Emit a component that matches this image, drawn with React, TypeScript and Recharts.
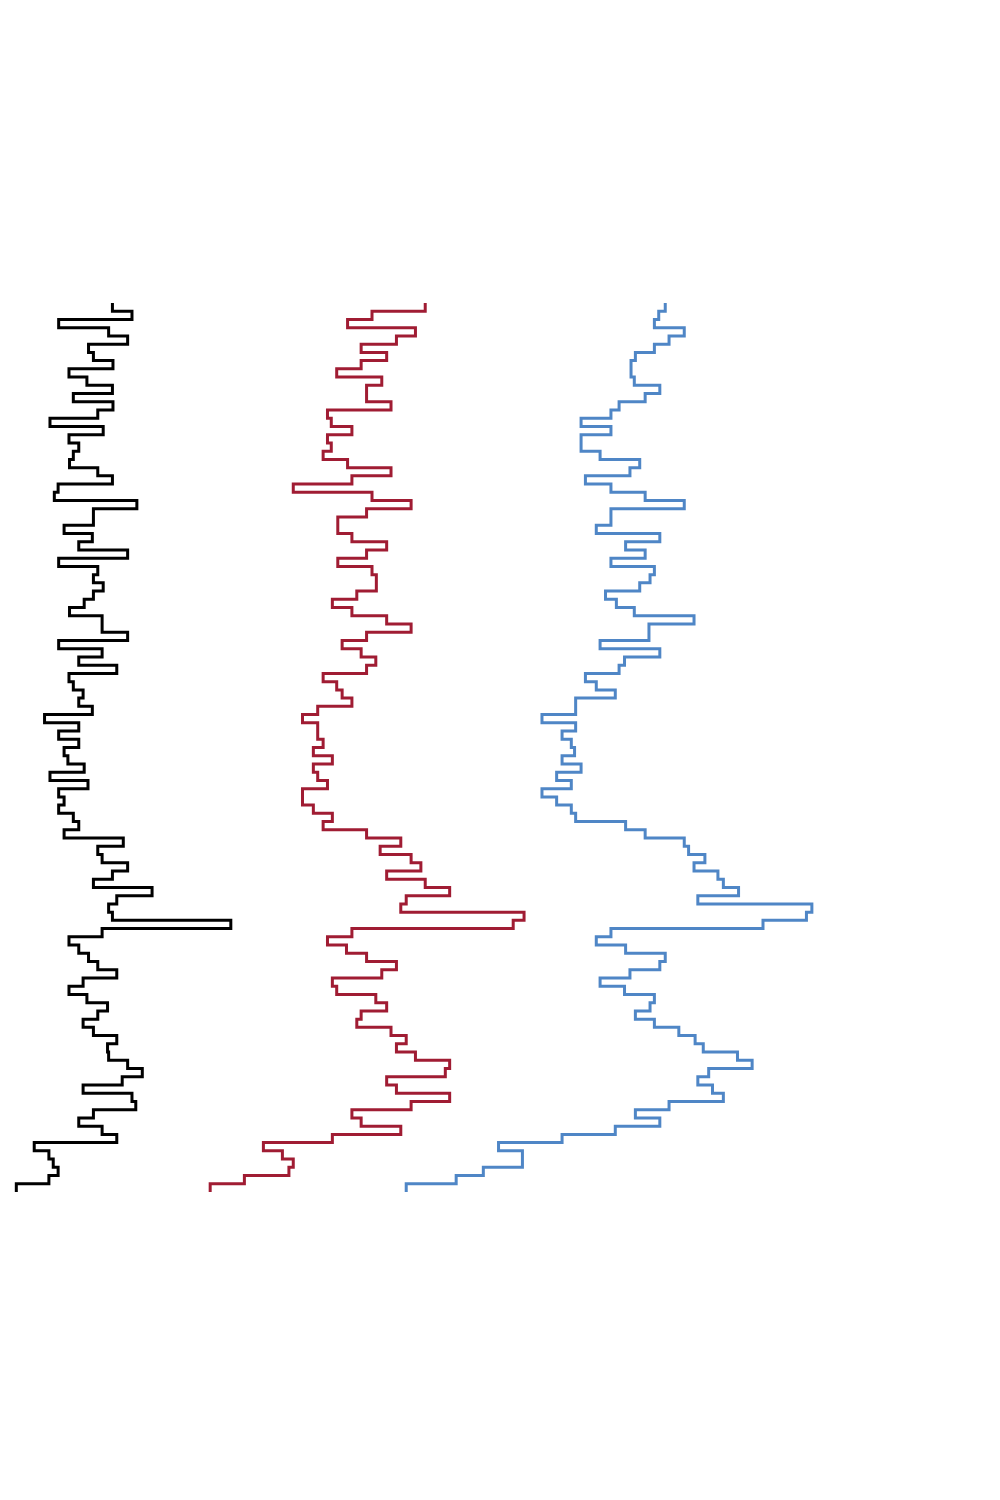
import { LineChart, Line, XAxis, YAxis } from 'recharts'

// readings per depth row (top to bottom), arbitrary units
const blackLog = [
  207, 243, 108, 200, 235, 163, 172, 208, 127, 160, 207, 135, 208, 180, 92, 190, 127,
  145, 135, 128, 180, 207, 107, 100, 252, 172, 172, 118, 170, 145, 235, 108, 180, 172, 190, 172,
  155, 128, 188, 188, 235, 108, 188, 145, 215, 127, 135, 153, 145, 170, 82, 145, 108, 145,
  118, 125, 155, 92, 162, 108, 118, 108, 135, 145, 118, 227, 180, 188, 235, 207, 172, 280,
  215, 200, 207, 425, 188, 127, 145, 163, 180, 215, 153, 127, 160, 198, 180, 153, 172, 215,
  198, 200, 235, 262, 225, 153, 243, 250, 172, 145, 188, 215, 63, 90, 98, 107, 90, 30,
]

const redLog = [
  783, 685, 640, 765, 730, 665, 712, 665, 620, 703, 675, 675, 720, 603, 610, 648, 603,
  610, 595, 640, 720, 648, 540, 685, 757, 675, 622, 622, 648, 712, 675, 622, 685, 693, 693, 657,
  612, 648, 712, 757, 675, 630, 665, 692, 675, 595, 620, 630, 648, 585, 557, 585, 585, 595,
  577, 612, 577, 585, 603, 557, 557, 577, 612, 595, 675, 738, 700, 757, 775, 712, 783, 828,
  748, 738, 965, 945, 648, 603, 638, 675, 730, 703, 612, 620, 692, 712, 665, 657, 720, 748,
  730, 765, 828, 820, 712, 730, 828, 757, 648, 665, 738, 612, 485, 520, 540, 532, 450, 387,
]

const blueLog = [
  1225, 1213, 1205, 1260, 1232, 1205, 1170, 1162, 1162, 1168, 1215, 1188, 1140, 1125, 1070, 1125, 1070,
  1070, 1105, 1178, 1160, 1078, 1125, 1188, 1260, 1125, 1125, 1098, 1215, 1152, 1188, 1125, 1205, 1197, 1178, 1115,
  1135, 1168, 1278, 1195, 1195, 1105, 1215, 1150, 1140, 1078, 1098, 1133, 1060, 1060, 998, 1060, 1035, 1052,
  1058, 1035, 1070, 1025, 1052, 998, 1025, 1052, 1060, 1152, 1188, 1260, 1268, 1298, 1278, 1322, 1332, 1360,
  1285, 1495, 1485, 1405, 1125, 1098, 1152, 1225, 1215, 1160, 1105, 1150, 1205, 1197, 1170, 1205, 1250, 1280,
  1295, 1358, 1385, 1305, 1285, 1312, 1332, 1232, 1170, 1215, 1133, 1035, 918, 962, 962, 890, 840, 748,
]

const rows = blackLog.length

// one point per row top, plus a closing point at the bottom of the last row
const data = Array.from({ length: rows + 1 }, (_, i) => {
  const k = Math.min(i, rows - 1)
  return { row: i, black: blackLog[k], red: redLog[k], blue: blueLog[k] }
})

export default function App() {
  return (
    <LineChart
      layout="vertical"
      width={984}
      height={1484}
      data={data}
      margin={{ top: 295, right: 0, bottom: 300, left: 0 }}
    >
      <XAxis type="number" hide domain={[14.7, 1826.7]} allowDataOverflow />
      <YAxis type="category" dataKey="row" hide reversed={false} />
      <YAxis yAxisId="n" type="number" hide />
      <Line dataKey="black" type="stepBefore" stroke="#000000" strokeWidth={3} dot={false} isAnimationActive={false} />
      <Line dataKey="red" type="stepBefore" stroke="#a01c33" strokeWidth={3} dot={false} isAnimationActive={false} />
      <Line dataKey="blue" type="stepBefore" stroke="#4f86c6" strokeWidth={3} dot={false} isAnimationActive={false} />
    </LineChart>
  )
}
